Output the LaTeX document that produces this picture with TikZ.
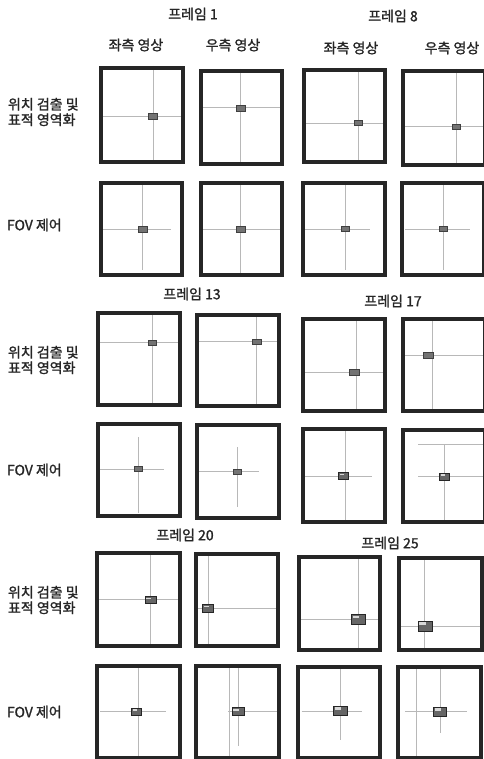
\documentclass[tikz,border=0pt]{standalone}
\usepackage{fontspec}
\setmainfont{Noto Sans CJK KR}[FakeBold=1.4]
\begin{document}
\begin{tikzpicture}[x=1pt,y=-1pt,
  every node/.style={inner sep=0pt,outer sep=0pt},
  panel/.style={draw=black!85,line width=4pt,fill=none},
  hair/.style={draw=black!28,line width=0.6pt},
  tgt/.style={draw=black!75,line width=0.7pt,fill=black!55},
  tgtbig/.style={draw=black!85,line width=1pt,fill=black!60,
    path picture={\fill[white!85!black] ([shift={(1.2pt,-1.2pt)}]path picture bounding box.north west) rectangle ([shift={(-0.45*\pgfkeysvalueof{/pgf/minimum width},1.2pt)}]path picture bounding box.east);}},
  ttl/.style={font=\fontsize{14}{16}\selectfont,text=black!85},
  lbl/.style={font=\fontsize{14}{15.5}\selectfont,text=black!85,anchor=west,align=left}
]
\useasboundingbox (0,0) rectangle (483,759);
\fill[white] (0,0) rectangle (483,759);

\newcommand\panelbox[5]{\node[panel,minimum width={#4-#2-4},minimum height={#5-#3-4}] (#1) at ({(#2+#4)/2},{(#3+#5)/2}) {};}
\newcommand\tg[5]{\node[tgt,minimum width=#4,minimum height=#5] (#1) at (#2,#3) {};}
\newcommand\tgb[5]{\node[tgtbig,minimum width=#4,minimum height=#5] (#1) at (#2,#3) {};}

% titles
\node[ttl] (f1) at (193,14) {프레임 1};
\node[ttl] (f8) at (393,16) {프레임 8};
\node[ttl] (c1) at (136,45) {좌측 영상};
\node[ttl] (c2) at (233,45) {우측 영상};
\node[ttl] (c3) at (351,48) {좌측 영상};
\node[ttl] (c4) at (452,48) {우측 영상};
\node[ttl] (f13) at (192,294) {프레임 13};
\node[ttl] (f17) at (393,301) {프레임 17};
\node[ttl] (f20) at (185,535) {프레임 20};
\node[ttl] (f25) at (390,543) {프레임 25};

% row labels
\node[lbl] (l1) at (8,112) {위치 검출 및\\표적 영역화};
\node[lbl] (l2) at (7,225) {FOV 제어};
\node[lbl] (l3) at (8,360) {위치 검출 및\\표적 영역화};
\node[lbl] (l4) at (7,470) {FOV 제어};
\node[lbl] (l5) at (8,600) {위치 검출 및\\표적 영역화};
\node[lbl] (l6) at (7,712) {FOV 제어};

% ---------- row 1 ----------
\draw[hair] (153.3,66) -- (153.3,164); \draw[hair] (99,116.7) -- (185,116.7);
\draw[hair] (240.7,69) -- (240.7,166); \draw[hair] (199,107.7) -- (284,107.7);
\draw[hair] (358.3,68) -- (358.3,164); \draw[hair] (302,123.3) -- (387,123.3);
\draw[hair] (456.7,69) -- (456.7,167); \draw[hair] (401,126.7) -- (487,126.7);
\panelbox{b11}{99}{66}{185}{164}
\panelbox{b12}{199}{69}{284}{166}
\panelbox{b13}{302}{68}{387}{164}
\panelbox{b14}{401}{69}{487}{167}
\tg{t11}{152.5}{116.7}{9}{6}
\tg{t12}{240.7}{108}{9}{6}
\tg{t13}{358.3}{123.3}{8}{5}
\tg{t14}{456.7}{126.7}{8}{5}

% ---------- row 2 ----------
\draw[hair] (142.7,185) -- (142.7,270); \draw[hair] (103,229) -- (171,229);
\draw[hair] (240.7,181) -- (240.7,277); \draw[hair] (203,229) -- (284,229);
\draw[hair] (345,185) -- (345,270); \draw[hair] (305,229) -- (370,229);
\draw[hair] (443.3,185) -- (443.3,270); \draw[hair] (405,229) -- (470,229);
\panelbox{b21}{99}{181}{184}{277}
\panelbox{b22}{199}{181}{284}{277}
\panelbox{b23}{301}{181}{387}{277}
\panelbox{b24}{400}{181}{486}{277}
\tg{t21}{142.7}{229}{9}{6}
\tg{t22}{240.7}{229}{9}{6}
\tg{t23}{345}{229}{8}{5}
\tg{t24}{443.3}{229}{8}{5}

% ---------- row 3 ----------
\draw[hair] (152.3,311) -- (152.3,407); \draw[hair] (96,342.7) -- (182,342.7);
\draw[hair] (256.7,313) -- (256.7,408); \draw[hair] (195,341.7) -- (281,341.7);
\draw[hair] (356,317) -- (356,413); \draw[hair] (301,372.3) -- (387,372.3);
\draw[hair] (432.7,317) -- (432.7,413); \draw[hair] (401,355) -- (487,355);
\panelbox{b31}{96}{311}{182}{407}
\panelbox{b32}{195}{313}{281}{408}
\panelbox{b33}{301}{317}{387}{413}
\panelbox{b34}{401}{317}{487}{413}
\tg{t31}{152.3}{342.5}{8}{5}
\tg{t32}{256.7}{341.7}{9}{5}
\tg{t33}{354.3}{372.3}{10}{6}
\tg{t34}{428.3}{355}{10}{6}

% ---------- row 4 ----------
\draw[hair] (138.3,437) -- (138.3,513); \draw[hair] (100,469.3) -- (164,469.3);
\draw[hair] (237.3,447) -- (237.3,507); \draw[hair] (199,471.7) -- (259,471.7);
\draw[hair] (345,427) -- (345,524); \draw[hair] (305,476) -- (372,476);
\draw[hair] (444.5,444) -- (444.5,524); \draw[hair] (418,476.7) -- (487,476.7);
\draw[hair] (418,444) -- (487,444);
\panelbox{b41}{96}{422}{182}{518}
\panelbox{b42}{195}{423}{281}{520}
\panelbox{b43}{301}{427}{387}{524}
\panelbox{b44}{401}{428}{487}{524}
\tg{t41}{138.3}{469.3}{8}{5}
\tg{t42}{237.3}{471.7}{8}{5}
\tgb{t43}{343.3}{476}{10}{7}
\tgb{t44}{444.5}{476.7}{10}{7}

% ---------- row 5 ----------
\draw[hair] (150.7,551) -- (150.7,648); \draw[hair] (95,599.3) -- (182,599.3);
\draw[hair] (208.3,552) -- (208.3,648); \draw[hair] (194,608.3) -- (280,608.3);
\draw[hair] (358.3,555) -- (358.3,652); \draw[hair] (297,619.3) -- (382,619.3);
\draw[hair] (424,556) -- (424,652); \draw[hair] (397,626) -- (487,626);
\panelbox{b51}{95}{551}{182}{648}
\panelbox{b52}{194}{552}{280}{648}
\panelbox{b53}{297}{555}{382}{652}
\panelbox{b54}{397}{556}{484}{652}
\tgb{t51}{150.7}{600}{11}{7}
\tgb{t52}{208.3}{608.3}{11}{8}
\tgb{t53}{358.3}{619.3}{14}{10}
\tgb{t54}{425}{626}{14}{10}

% ---------- row 6 ----------
\draw[hair] (138.3,664) -- (138.3,760); \draw[hair] (100,711.7) -- (165.7,711.7);
\draw[hair] (238.5,664) -- (238.5,746); \draw[hair] (229.3,664) -- (229.3,760); \draw[hair] (228.3,711.7) -- (280,711.7);
\draw[hair] (340.7,665) -- (340.7,740); \draw[hair] (301.7,711.7) -- (361.7,711.7);
\draw[hair] (440,665) -- (440,733); \draw[hair] (416.7,665) -- (416.7,760); \draw[hair] (405,711.7) -- (467,711.7);
\panelbox{b61}{95}{664}{182}{760}
\panelbox{b62}{194}{664}{281}{760}
\panelbox{b63}{296}{665}{382}{760}
\panelbox{b64}{396}{665}{483}{760}
\tgb{t61}{136.7}{711.7}{10}{7}
\tgb{t62}{238}{711.7}{12}{8}
\tgb{t63}{340.7}{710.7}{14}{9}
\tgb{t64}{440}{711.7}{13}{9}
\end{tikzpicture}
\end{document}
